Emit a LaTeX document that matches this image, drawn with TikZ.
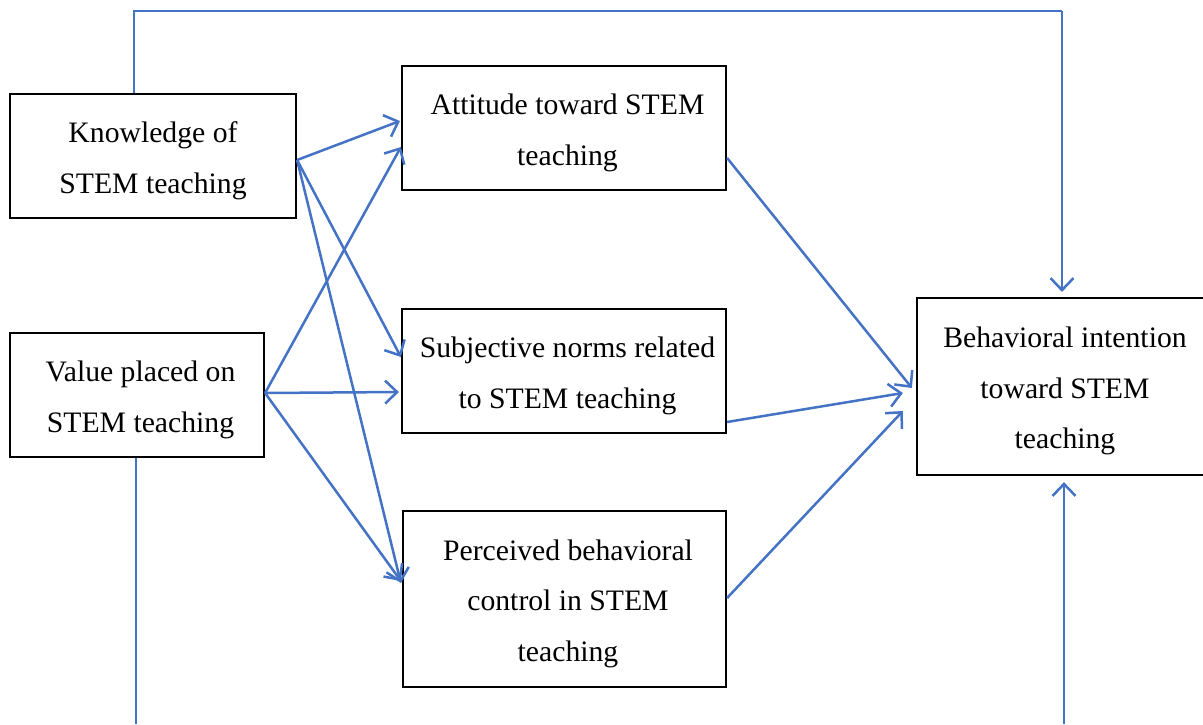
\documentclass[tikz,border=0pt]{standalone}
\usepackage{fontspec}
\setmainfont{Liberation Serif}
\usetikzlibrary{arrows.meta,calc}
\definecolor{conn}{RGB}{68,114,196}
\newcommand{\fstrut}{\rule{0pt}{30pt}}
\newcommand{\ind}{\hspace*{7pt}}
\tikzset{
  box/.style={draw=black, line width=2.2pt, inner sep=0pt, align=center,
    font=\fontsize{29.7}{50.5}\selectfont},
  tip/.style={-{Straight Barb[length=12pt,width=23pt,line width=2.5pt]}},
  link/.style={draw=conn, line width=2.5pt, tip},
  plain/.style={draw=conn, line width=2.5pt},
  thin/.style={draw=conn, line width=1.5pt},
}
\begin{document}
\begin{tikzpicture}[x=1pt,y=-1pt]
\useasboundingbox (0,0) rectangle (1203,724);
\node[box, minimum width=286pt, minimum height=124pt] (K) at (153,156) {\fstrut Knowledge of\\STEM teaching};
\node[box, minimum width=254pt, minimum height=124pt] (V) at (137,395) {\fstrut\ind Value placed on\\\ind STEM teaching};
\node[box, minimum width=324pt, minimum height=124pt] (A) at (564,128) {\fstrut\ind Attitude toward STEM\\\ind teaching};
\node[box, minimum width=324pt, minimum height=124pt] (S) at (564,371) {\fstrut\ind Subjective norms related\\\ind to STEM teaching};
\node[box, minimum width=323pt, minimum height=176pt] (P) at (564.5,599) {\fstrut\ind Perceived behavioral\\\ind control in STEM\\\ind teaching};
\node[box, minimum width=296pt, minimum height=177pt] (B) at (1065,386.5) {\fstrut Behavioral intention\\toward STEM\\teaching};
\coordinate (T1) at (134,11);
\coordinate (T2) at (1062,11);
\coordinate (VB) at (136,724);
\coordinate (BB) at (1064,724);
% top feedback line
\draw[thin] ([xshift=-19pt]K.north) -- (T1) -- (T2);
\draw[thin, tip] (T2) -- ([xshift=-3pt,yshift=5pt]B.north);
% knowledge arrows
\draw[link] ([yshift=-4pt]K.east) -- ([xshift=-1pt,yshift=7pt]A.west);
\draw[link] ([yshift=-4pt]K.east) -- ([yshift=14pt]S.west);
\draw[link] ([yshift=-4pt]K.east) -- ([xshift=-1pt,yshift=16pt]P.west);
% value arrows
\draw[link] ([yshift=2pt]V.east) -- ([yshift=-19pt]A.west);
\draw[link] ([yshift=2pt]V.east) -- ([xshift=-2pt,yshift=-21pt]S.west);
\draw[link] ([yshift=2pt]V.east) -- ([xshift=-1pt,yshift=18pt]P.west);
% mediators to intention
\draw[link] ([yshift=-30pt]A.east) -- ([xshift=-4pt,yshift=-1.5pt]B.west);
\draw[link] ([yshift=-51pt]S.east) -- ([xshift=-13pt,yshift=-6.5pt]B.west);
\draw[link] ([yshift=1pt]P.east) -- ([xshift=-13pt,yshift=-24.5pt]B.west);
% bottom lines
\draw[plain] (V.south) ++(-1pt,0) -- (VB);
\draw[link] (BB) -- ([xshift=-1pt,yshift=-6pt]B.south);
\end{tikzpicture}
\end{document}
